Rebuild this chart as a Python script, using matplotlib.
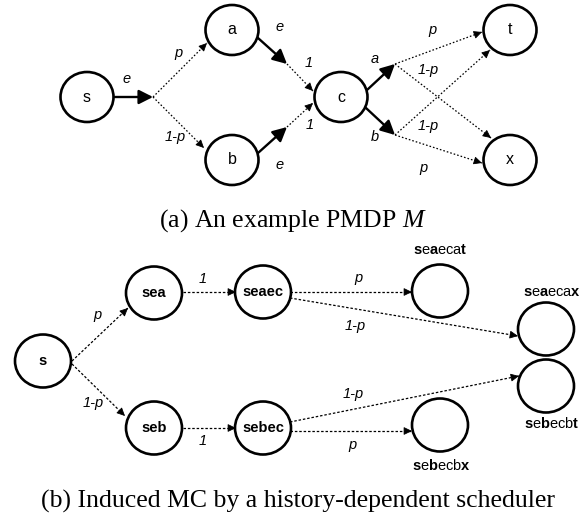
import matplotlib
matplotlib.use("Agg")
import matplotlib.pyplot as plt
from matplotlib.patches import Ellipse, FancyArrowPatch, ArrowStyle

plt.rcParams['mathtext.fontset'] = 'custom'
plt.rcParams['mathtext.rm'] = 'Liberation Sans'
plt.rcParams['mathtext.bf'] = 'Liberation Sans:bold'
plt.rcParams['mathtext.it'] = 'Liberation Serif:italic'

# ---------------- data: (a) PMDP ----------------
top_nodes = ['s', 'a', 'b', 'c', 't', 'x']
top_node_x = [87, 232, 232, 341, 510, 510]
top_node_y = [97, 30, 160, 97, 30, 160]

# solid (action) edges: start -> end, label, label position
top_solid_start = [(114, 97), (258, 38), (258, 153), (367, 90), (366, 108)]
top_solid_end = [(153, 97), (287, 64), (287, 127), (395, 64), (395, 135)]
top_solid_labels = ['e', 'e', 'e', 'a', 'b']
top_solid_label_pos = [(127, 79), (280, 27), (280, 165), (375, 59), (375, 137)]

# dotted (probabilistic) edges
top_dot_start = [(153, 97), (153, 97), (287, 64), (287, 127),
                 (395, 64), (395, 64), (395, 135), (395, 135)]
top_dot_end = [(207, 43), (204, 148), (313, 91), (313, 103),
               (482, 32), (491, 138), (490, 50), (482, 163)]
top_dot_labels = ['p', '1-p', '1', '1', 'p', '1-p', '1-p', 'p']
top_dot_label_pos = [(178, 53), (175, 137), (309, 63), (310, 125),
                     (432, 30), (428, 70), (428, 126), (423, 168)]

# ---------------- data: (b) induced MC ----------------
bot_nodes = ['s', 'sea', 'seaec', 'seb', 'sebec', '', '', '', '']
bot_node_x = [43, 154, 263, 154, 263, 440, 546, 546, 440]
bot_node_y = [361, 293, 292, 428, 428, 291, 329, 386, 425]

bot_outer_labels = [r'$\mathbf{s}\mathrm{e}\mathbf{a}\mathrm{eca}\mathbf{t}$',
                    r'$\mathbf{s}\mathrm{e}\mathbf{a}\mathrm{eca}\mathbf{x}$',
                    r'$\mathbf{s}\mathrm{e}\mathbf{b}\mathrm{ecb}\mathbf{t}$',
                    r'$\mathbf{s}\mathrm{e}\mathbf{b}\mathrm{ecb}\mathbf{x}$']
bot_outer_pos = [(440, 250), (552, 292), (552, 423), (441, 465)]

bot_dot_start = [(72, 361), (72, 364), (183, 292), (183, 428),
                 (290, 292), (290, 298), (290, 422), (290, 431)]
bot_dot_end = [(128, 308), (125, 416), (236, 292), (236, 428),
               (412, 292), (518, 336), (519, 376), (412, 431)]
bot_dot_labels = ['p', '1-p', '1', '1', 'p', '1-p', '1-p', 'p']
bot_dot_label_pos = [(97, 315), (93, 403), (203, 279), (203, 441),
                     (358, 278), (355, 326), (353, 394), (352, 445)]

captions = ['(a) An example PMDP $M$',
            '(b) Induced MC by a history-dependent scheduler']
caption_pos = [(293, 221), (298, 501)]

# ---------------- drawing ----------------
fig = plt.figure(figsize=(5.8, 5.22), dpi=100)
ax = fig.add_axes([0, 0, 1, 1])
ax.set_xlim(0, 580)
ax.set_ylim(522, 0)
ax.axis('off')

SANS = 'Liberation Sans'


def node(x, y, w, h, label, bold):
    ax.add_patch(Ellipse((x, y), w, h, facecolor='white', edgecolor='black',
                         lw=1.9, zorder=3))
    if label:
        ax.text(x, y, label, ha='center', va='center', family=SANS,
                fontsize=10.5 if bold else 11.5,
                fontweight='bold' if bold else 'normal', zorder=4)


def solid_arrow(p0, p1):
    ax.add_patch(FancyArrowPatch(p0, p1,
                                 arrowstyle=ArrowStyle('-|>', head_length=8.5, head_width=4.3),
                                 mutation_scale=1, lw=1.7, color='black',
                                 shrinkA=0, shrinkB=0, zorder=2))


def dotted_arrow(p0, p1, dashes):
    ax.plot([p0[0], p1[0]], [p0[1], p1[1]], color='black', lw=0.9,
            dashes=dashes, zorder=2, solid_capstyle='butt')
    dx, dy = p1[0] - p0[0], p1[1] - p0[1]
    L = (dx ** 2 + dy ** 2) ** 0.5
    q = (p1[0] - dx / L * 2, p1[1] - dy / L * 2)
    ax.add_patch(FancyArrowPatch(q, p1,
                                 arrowstyle=ArrowStyle('-|>', head_length=5, head_width=2.4),
                                 mutation_scale=1, lw=0.6, color='black',
                                 shrinkA=0, shrinkB=0, zorder=2))


def edge_label(pos, text):
    ax.text(pos[0], pos[1], text, ha='center', va='center', family=SANS,
            style='italic', fontsize=10.5, zorder=4)


# (a)
for name, x, y in zip(top_nodes, top_node_x, top_node_y):
    node(x, y, 53, 50, name, False)
for p0, p1 in zip(top_solid_start, top_solid_end):
    solid_arrow(p0, p1)
for lab, pos in zip(top_solid_labels, top_solid_label_pos):
    edge_label(pos, lab)
for p0, p1 in zip(top_dot_start, top_dot_end):
    dotted_arrow(p0, p1, (1.3, 1.6))
for lab, pos in zip(top_dot_labels, top_dot_label_pos):
    edge_label(pos, lab)

# (b)
for name, x, y in zip(bot_nodes, bot_node_x, bot_node_y):
    node(x, y, 56, 53, name, True)
for lab, pos in zip(bot_outer_labels, bot_outer_pos):
    ax.text(pos[0], pos[1], lab, ha='center', va='center', fontsize=10.5, zorder=4)
for p0, p1 in zip(bot_dot_start, bot_dot_end):
    dotted_arrow(p0, p1, (2.0, 1.5))
for lab, pos in zip(bot_dot_labels, bot_dot_label_pos):
    edge_label(pos, lab)

for cap, pos in zip(captions, caption_pos):
    ax.text(pos[0], pos[1], cap, ha='center', va='center',
            family='Liberation Serif', fontsize=18.5)

fig.savefig('out.png', dpi=100)
